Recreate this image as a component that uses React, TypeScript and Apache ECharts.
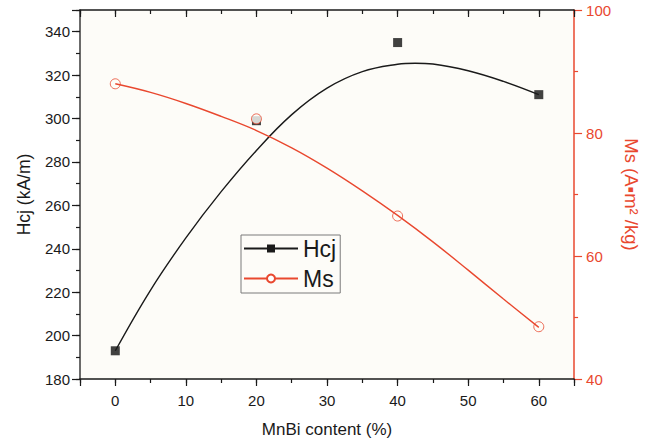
import React, { useEffect, useRef } from "react";
import * as echarts from "echarts";

const contentX = [0, 20, 40, 60];
const hcjPoints = [193, 299, 335, 311];
const msPoints = [88, 82.3, 66.5, 48.5];

const hcjFitX = [0, 5, 10, 15, 20, 25, 30, 35, 40, 42.5, 45, 50, 55, 60];
const hcjFit = [193, 221, 245, 266.3, 285.3, 301.8, 314, 321.6, 325, 325.5, 325.1, 322, 317.1, 311];
const msFitX = [0, 5, 10, 15, 20, 25, 30, 35, 40, 45, 50, 55, 60];
const msFit = [88, 86.6, 84.8, 82.7, 80.4, 77.6, 74.3, 70.6, 66.6, 62.3, 57.7, 53, 48.4];

const RED = "#e9482f";
const INK = "#1a1a1a";
const FONT = "Liberation Sans";
const BG = "#fdfcf8";

export default function App() {
  const ref = useRef<HTMLDivElement>(null);
  useEffect(() => {
    if (!ref.current) return;
    const chart = echarts.init(ref.current, undefined, { renderer: "svg" });
    const pair = (xs: number[], ys: number[]) => xs.map((x, i) => [x, ys[i]]);
    const xBase = { type: "value", min: -5, max: 65, splitLine: { show: false } };
    chart.setOption({
      animation: false,
      backgroundColor: "#ffffff",
      textStyle: { fontFamily: FONT },
      grid: { left: 80, right: 65, top: 10, bottom: 63, show: true, backgroundColor: BG, borderWidth: 0 },
      legend: {
        data: ["Hcj", "Ms"],
        orient: "vertical",
        left: 241,
        top: 235,
        itemWidth: 54,
        itemHeight: 10,
        itemGap: 7,
        padding: [2, 4, 3, 2],
        borderColor: "#7a7a7a",
        borderWidth: 1,
        backgroundColor: BG,
        textStyle: { fontSize: 23, color: INK, fontFamily: FONT },
      },
      xAxis: [
        {
          ...xBase,
          position: "bottom",
          interval: 5,
          axisLine: { show: true, onZero: false, lineStyle: { color: INK, width: 1.5 } },
          axisTick: { show: true, inside: false, length: 4, lineStyle: { color: INK, width: 1.2 } },
          axisLabel: { show: false },
          name: "MnBi content (%)",
          nameLocation: "middle",
          nameGap: 42,
          nameTextStyle: { fontSize: 17, color: INK, fontFamily: FONT },
        },
        {
          ...xBase,
          position: "bottom",
          splitNumber: 7,
          axisLine: { show: false, onZero: false },
          axisTick: { show: true, inside: false, length: 7, lineStyle: { color: INK, width: 1.2 } },
          axisLabel: {
            show: true,
            margin: 14,
            fontSize: 15,
            color: INK,
            fontFamily: FONT,
            formatter: (v: number) => (v % 10 === 0 ? String(v) : ""),
          },
        },
        {
          ...xBase,
          position: "top",
          interval: 5,
          axisLine: { show: true, onZero: false, lineStyle: { color: INK, width: 1.5 } },
          axisTick: { show: true, inside: true, length: 4, lineStyle: { color: INK, width: 1.2 } },
          axisLabel: { show: false },
        },
        {
          ...xBase,
          position: "top",
          splitNumber: 7,
          axisLine: { show: false, onZero: false },
          axisTick: { show: true, inside: true, length: 7, lineStyle: { color: INK, width: 1.2 } },
          axisLabel: { show: false },
        },
      ],
      yAxis: [
        {
          type: "value",
          position: "left",
          min: 180,
          max: 350,
          interval: 20,
          splitLine: { show: false },
          axisLine: { show: true, onZero: false, lineStyle: { color: "#3a3a3a", width: 1.5 } },
          axisTick: { show: true, inside: false, length: 8, lineStyle: { color: INK, width: 1.2 } },
          axisLabel: {
            margin: 10,
            fontSize: 15,
            color: INK,
            fontFamily: FONT,
            formatter: (v: number) => (v === 350 ? "" : String(v)),
          },
          name: "Hcj (kA/m)",
          nameLocation: "middle",
          nameGap: 47,
          nameTextStyle: { fontSize: 17.5, color: INK, fontFamily: FONT },
        },
        {
          type: "value",
          position: "left",
          min: 180,
          max: 350,
          interval: 10,
          splitLine: { show: false },
          axisLine: { show: false, onZero: false },
          axisTick: { show: true, inside: false, length: 4, lineStyle: { color: INK, width: 1.2 } },
          axisLabel: { show: false },
        },
        {
          type: "value",
          position: "right",
          min: 40,
          max: 100,
          interval: 20,
          splitLine: { show: false },
          axisLine: { show: true, onZero: false, lineStyle: { color: RED, width: 1.5 } },
          axisTick: { show: true, inside: false, length: 8, lineStyle: { color: RED, width: 1.2 } },
          minorTick: { show: true, splitNumber: 2, length: 4, lineStyle: { color: RED, width: 1.2 } },
          axisLabel: { margin: 12, fontSize: 15, color: RED, fontFamily: FONT },
          name: "Ms (A▪m² /kg)",
          nameLocation: "middle",
          nameRotate: -90,
          nameGap: 31,
          nameTextStyle: { fontSize: 18.5, color: RED, fontFamily: FONT },
        },
      ],
      series: [
        {
          name: "Hcj",
          type: "line",
          xAxisIndex: 0,
          yAxisIndex: 0,
          data: pair(hcjFitX, hcjFit),
          smooth: 0.4,
          showSymbol: false,
          symbol: "rect",
          color: INK,
          lineStyle: { color: INK, width: 1.4 },
          itemStyle: { color: INK },
        },
        {
          name: "Ms",
          type: "line",
          xAxisIndex: 0,
          yAxisIndex: 2,
          data: pair(msFitX, msFit),
          smooth: 0.4,
          showSymbol: false,
          symbol: "emptyCircle",
          color: RED,
          lineStyle: { color: RED, width: 1.4 },
          itemStyle: { color: RED },
        },
        {
          name: "Hcj points",
          type: "scatter",
          xAxisIndex: 0,
          yAxisIndex: 0,
          data: pair(contentX, hcjPoints),
          symbol: "rect",
          symbolSize: 9,
          itemStyle: { color: "#111111" },
        },
        {
          name: "Ms points",
          type: "scatter",
          xAxisIndex: 0,
          yAxisIndex: 2,
          data: pair(contentX, msPoints),
          symbol: "circle",
          symbolSize: 10,
          itemStyle: { color: BG, borderColor: RED, borderWidth: 1 },
        },
      ],
    });
    return () => chart.dispose();
  }, []);
  return <div ref={ref} style={{ width: 649, height: 443, position: "absolute", left: 0, top: 0 }} />;
}
